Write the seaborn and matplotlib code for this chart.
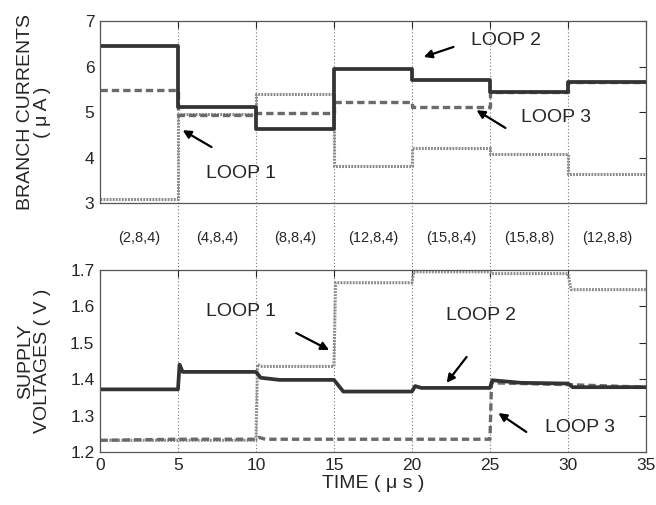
import matplotlib
matplotlib.use("Agg")
import matplotlib.pyplot as plt
import seaborn as sns
import pandas as pd

# ---------------- data ----------------
# top panel: branch currents, one value per 5 us interval (step plot)
t_top = [0, 5, 10, 15, 20, 25, 30, 35]
loop1_i = [3.08, 4.96, 5.40, 3.82, 4.20, 4.08, 3.63, 3.63]
loop2_i = [6.45, 5.12, 4.63, 5.95, 5.70, 5.45, 5.67, 5.67]
loop3_i = [5.48, 4.93, 4.98, 5.23, 5.10, 5.45, 5.67, 5.67]

# bottom panel: supply voltages (points including switching transients)
t_v1 = [0, 10.0, 10.1, 10.4, 15.0, 15.1, 20.0, 20.1, 25.0, 25.1, 30.0, 30.2, 35]
loop1_v = [1.232, 1.232, 1.440, 1.435, 1.435, 1.665, 1.665, 1.695, 1.695, 1.690, 1.690, 1.646, 1.646]
t_v2 = [0, 5.0, 5.1, 5.3, 10.0, 10.3, 11.5, 15.0, 15.6, 20.0, 20.2, 20.6, 25.0, 25.15, 27.0, 30.0, 30.3, 35]
loop2_v = [1.372, 1.372, 1.440, 1.420, 1.420, 1.404, 1.398, 1.398, 1.366, 1.366, 1.381, 1.376, 1.376, 1.397, 1.390, 1.388, 1.378, 1.378]
t_v3 = [0, 5.0, 10.0, 10.2, 10.6, 25.0, 25.1, 30.0, 35]
loop3_v = [1.232, 1.235, 1.235, 1.240, 1.235, 1.235, 1.390, 1.385, 1.378]

configs = ["(2,8,4)", "(4,8,4)", "(8,8,4)", "(12,8,4)", "(15,8,4)", "(15,8,8)", "(12,8,8)"]
switch_times = [5, 10, 15, 20, 25, 30]

# ---------------- style ----------------
sns.set_style("white")
plt.rcParams['font.family'] = ['Liberation Sans', 'DejaVu Sans']
plt.rcParams['xtick.direction'] = 'in'
plt.rcParams['ytick.direction'] = 'in'

c_solid, c_dash, c_dot = '#333333', '#6a6a6a', '#8a8a8a'

fig = plt.figure(figsize=(6.56, 5.05), dpi=100)
ax1 = fig.add_axes([0.1524, 0.598, 0.8323, 0.3604])
axm = fig.add_axes([0.1524, 0.4653, 0.8323, 0.1327])
ax2 = fig.add_axes([0.1524, 0.105, 0.8323, 0.3604])

# ---------------- top: branch currents ----------------
top = pd.DataFrame({'t': t_top, 'l1': loop1_i, 'l2': loop2_i, 'l3': loop3_i})
sns.lineplot(data=top, x='t', y='l1', ax=ax1, drawstyle='steps-post', color=c_dot,
             lw=2.2, linestyle=(0, (0.6, 0.4)))
sns.lineplot(data=top, x='t', y='l3', ax=ax1, drawstyle='steps-post', color=c_dash,
             lw=2.4, linestyle=(0, (2.2, 1.2)))
sns.lineplot(data=top, x='t', y='l2', ax=ax1, drawstyle='steps-post', color=c_solid, lw=2.7)
ax1.set_xlim(0, 35)
ax1.set_ylim(3, 7)
ax1.set_yticks([3, 4, 5, 6, 7])
ax1.set_xticks([0, 5, 10, 15, 20, 25, 30, 35])
ax1.set_xticklabels([])
ax1.set_xlabel('')
ax1.set_ylabel('BRANCH CURRENTS\n( μ A )', fontsize=14, linespacing=1.0)
ax1.yaxis.set_label_coords(-0.09, 0.5)

# ---------------- bottom: supply voltages ----------------
sns.lineplot(x=t_v1, y=loop1_v, ax=ax2, color=c_dot, lw=2.2, linestyle=(0, (0.6, 0.4)))
sns.lineplot(x=t_v3, y=loop3_v, ax=ax2, color=c_dash, lw=2.4, linestyle=(0, (2.2, 1.2)))
sns.lineplot(x=t_v2, y=loop2_v, ax=ax2, color=c_solid, lw=2.7)
ax2.set_xlim(0, 35)
ax2.set_ylim(1.2, 1.7)
ax2.set_yticks([1.2, 1.3, 1.4, 1.5, 1.6, 1.7])
ax2.set_xticks([0, 5, 10, 15, 20, 25, 30, 35])
ax2.set_ylabel('SUPPLY\nVOLTAGES ( V )', fontsize=14, linespacing=1.0)
ax2.yaxis.set_label_coords(-0.09, 0.5)
ax2.set_xlabel('TIME ( μ s )', fontsize=14, labelpad=2)

for ax in (ax1, ax2):
    ax.tick_params(labelsize=12.5, length=5, width=0.8, top=True, right=True, pad=4)
    for s in ax.spines.values():
        s.set_color('#555555')
        s.set_linewidth(0.9)
    for x in switch_times:
        ax.axvline(x, color='#777777', lw=0.8, linestyle=(0, (1, 2)), zorder=0)

# ---------------- middle strip: configuration labels ----------------
axm.set_xlim(0, 35)
axm.set_ylim(0, 1)
axm.axis('off')
for x in switch_times:
    axm.axvline(x, color='#777777', lw=0.8, linestyle=(0, (1, 2)))
for i, lab in enumerate(configs):
    axm.text(5 * i + 2.5, 0.48, lab, ha='center', va='center', fontsize=10.5)

# ---------------- annotations ----------------
arrow = dict(arrowstyle='-|>', color='black', lw=1.6, mutation_scale=12, shrinkA=0, shrinkB=0)
ax1.annotate('', xy=(5.3, 4.6), xytext=(7.15, 4.23), arrowprops=arrow)
ax1.text(9.07, 3.64, 'LOOP 1', fontsize=14, ha='center', va='center')
ax1.annotate('', xy=(20.75, 6.21), xytext=(22.66, 6.43), arrowprops=arrow)
ax1.text(26.0, 6.58, 'LOOP 2', fontsize=14, ha='center', va='center')
ax1.annotate('', xy=(24.14, 5.04), xytext=(25.99, 4.65), arrowprops=arrow)
ax1.text(29.25, 4.87, 'LOOP 3', fontsize=14, ha='center', va='center')

ax2.text(9.07, 1.587, 'LOOP 1', fontsize=14, ha='center', va='center')
ax2.annotate('', xy=(14.69, 1.48), xytext=(12.58, 1.527), arrowprops=arrow)
ax2.text(24.4, 1.574, 'LOOP 2', fontsize=14, ha='center', va='center')
ax2.annotate('', xy=(22.22, 1.39), xytext=(23.5, 1.461), arrowprops=arrow)
ax2.text(30.78, 1.266, 'LOOP 3', fontsize=14, ha='center', va='center')
ax2.annotate('', xy=(25.54, 1.307), xytext=(27.33, 1.255), arrowprops=arrow)

fig.savefig('out.png', dpi=100)
